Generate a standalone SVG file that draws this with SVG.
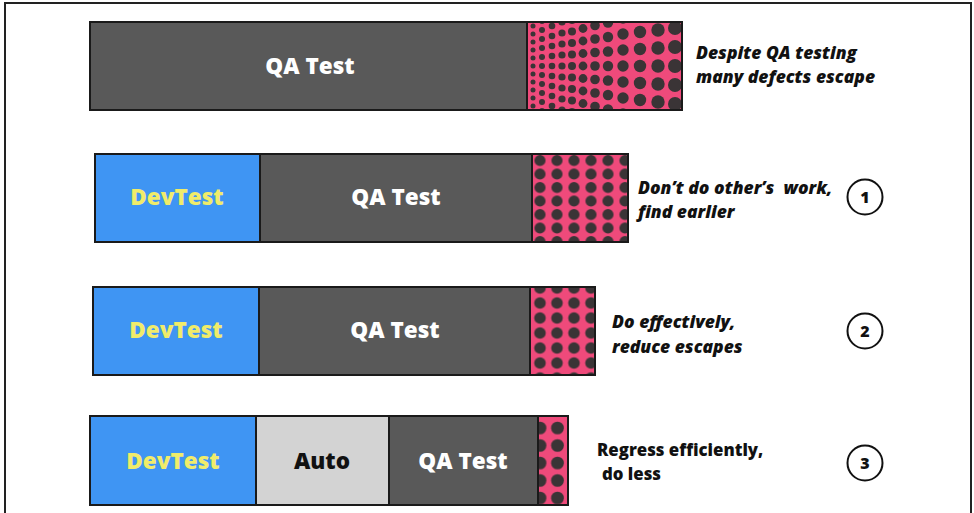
<svg xmlns="http://www.w3.org/2000/svg" width="974" height="513" viewBox="0 0 974 513">
  <style>
    .bar { stroke: #1a1a1a; stroke-width: 2; }
    .qa { fill: #595959; }
    .dev { fill: #3f95f3; }
    .auto { fill: #d3d3d3; }
    .pink { fill: #ef4a7b; }
    .lbl { font-family: "Open Sans", "Liberation Sans", sans-serif; font-weight: 800; font-size: 22.5px; text-anchor: middle; }
    .w { fill: #ffffff; }
    .y { fill: #f0ec6a; }
    .k { fill: #111111; }
    .note { font-family: "Open Sans", "Liberation Sans", sans-serif; font-weight: 800; font-style: italic; font-size: 17.5px; fill: #111111; }
    .note3 { font-family: "Open Sans", "Liberation Sans", sans-serif; font-weight: 800; font-size: 16.8px; fill: #111111; }
    .num { fill: #ffffff; stroke: #111111; stroke-width: 2; }
    .numt { font-family: "Open Sans", "Liberation Sans", sans-serif; font-weight: 800; font-size: 16px; fill: #111111; text-anchor: middle; }
    .dot { fill: #3a3436; }
  </style>
  <defs>
    <pattern id="dots1" patternUnits="userSpaceOnUse" x="531.5" y="154" width="17" height="13.5">
      <rect width="17" height="13.5" fill="#ef4a7b"/>
      <circle cx="8.5" cy="6.5" r="5.6" fill="#3a3436"/>
    </pattern>
    <pattern id="dots2" patternUnits="userSpaceOnUse" x="531.5" y="280.5" width="17" height="15">
      <rect width="17" height="15" fill="#ef4a7b"/>
      <circle cx="8.5" cy="7.5" r="5.8" fill="#3a3436"/>
    </pattern>
    <pattern id="dots3" patternUnits="userSpaceOnUse" x="531" y="419" width="17.5" height="17.5">
      <rect width="17.5" height="17.5" fill="#ef4a7b"/>
      <circle cx="9" cy="9" r="6.4" fill="#3a3436"/>
    </pattern>
    <clipPath id="clip0"><rect x="527" y="22" width="155" height="88"/></clipPath>
  </defs>

  <!-- outer frame -->
  <rect x="5" y="3" width="966" height="520" fill="#ffffff" stroke="#222222" stroke-width="2"/>

  <!-- row 0: QA only -->
  <g id="row0">
    <rect class="bar qa" x="90" y="22" width="437" height="88"/>
    <rect class="pink" x="527" y="22" width="155" height="88"/>
    <g clip-path="url(#clip0)" class="dot">
      <circle cx="533" cy="26" r="2.5"/><circle cx="533" cy="34" r="2.5"/><circle cx="533" cy="42" r="2.5"/><circle cx="533" cy="50" r="2.5"/><circle cx="533" cy="58" r="2.5"/><circle cx="533" cy="66" r="2.5"/><circle cx="533" cy="74" r="2.5"/><circle cx="533" cy="82" r="2.5"/><circle cx="533" cy="90" r="2.5"/><circle cx="533" cy="98" r="2.5"/><circle cx="533" cy="106" r="2.5"/>
      <circle cx="542" cy="21" r="3"/><circle cx="542" cy="30" r="3"/><circle cx="542" cy="39" r="3"/><circle cx="542" cy="48" r="3"/><circle cx="542" cy="57" r="3"/><circle cx="542" cy="66" r="3"/><circle cx="542" cy="75" r="3"/><circle cx="542" cy="84" r="3"/><circle cx="542" cy="93" r="3"/><circle cx="542" cy="102" r="3"/><circle cx="542" cy="111" r="3"/>
      <circle cx="552" cy="26" r="3.3"/><circle cx="552" cy="36" r="3.3"/><circle cx="552" cy="46" r="3.3"/><circle cx="552" cy="56" r="3.3"/><circle cx="552" cy="66" r="3.3"/><circle cx="552" cy="76" r="3.3"/><circle cx="552" cy="86" r="3.3"/><circle cx="552" cy="96" r="3.3"/><circle cx="552" cy="106" r="3.3"/>
      <circle cx="562" cy="22" r="3.6"/><circle cx="562" cy="33" r="3.6"/><circle cx="562" cy="44" r="3.6"/><circle cx="562" cy="55" r="3.6"/><circle cx="562" cy="66" r="3.6"/><circle cx="562" cy="77" r="3.6"/><circle cx="562" cy="88" r="3.6"/><circle cx="562" cy="99" r="3.6"/><circle cx="562" cy="110" r="3.6"/>
      <circle cx="572" cy="20" r="4"/><circle cx="572" cy="31.5" r="4"/><circle cx="572" cy="43" r="4"/><circle cx="572" cy="54.5" r="4"/><circle cx="572" cy="66" r="4"/><circle cx="572" cy="77.5" r="4"/><circle cx="572" cy="89" r="4"/><circle cx="572" cy="100.5" r="4"/><circle cx="572" cy="112" r="4"/>
      <circle cx="583" cy="28.5" r="4.4"/><circle cx="583" cy="41" r="4.4"/><circle cx="583" cy="53.5" r="4.4"/><circle cx="583" cy="66" r="4.4"/><circle cx="583" cy="78.5" r="4.4"/><circle cx="583" cy="91" r="4.4"/><circle cx="583" cy="103.5" r="4.4"/>
      <circle cx="595" cy="25.5" r="4.8"/><circle cx="595" cy="39" r="4.8"/><circle cx="595" cy="52.5" r="4.8"/><circle cx="595" cy="66" r="4.8"/><circle cx="595" cy="79.5" r="4.8"/><circle cx="595" cy="93" r="4.8"/><circle cx="595" cy="106.5" r="4.8"/>
      <circle cx="608" cy="22.5" r="5.2"/><circle cx="608" cy="37" r="5.2"/><circle cx="608" cy="51.5" r="5.2"/><circle cx="608" cy="66" r="5.2"/><circle cx="608" cy="80.5" r="5.2"/><circle cx="608" cy="95" r="5.2"/><circle cx="608" cy="109.5" r="5.2"/>
      <circle cx="623" cy="18" r="5.7"/><circle cx="623" cy="34" r="5.7"/><circle cx="623" cy="50" r="5.7"/><circle cx="623" cy="66" r="5.7"/><circle cx="623" cy="82" r="5.7"/><circle cx="623" cy="98" r="5.7"/><circle cx="623" cy="114" r="5.7"/>
      <circle cx="640" cy="32" r="6.2"/><circle cx="640" cy="49" r="6.2"/><circle cx="640" cy="66" r="6.2"/><circle cx="640" cy="83" r="6.2"/><circle cx="640" cy="100" r="6.2"/>
      <circle cx="658" cy="30" r="6.7"/><circle cx="658" cy="48" r="6.7"/><circle cx="658" cy="66" r="6.7"/><circle cx="658" cy="84" r="6.7"/><circle cx="658" cy="102" r="6.7"/>
      <circle cx="675" cy="28" r="7"/><circle cx="675" cy="47" r="7"/><circle cx="675" cy="66" r="7"/><circle cx="675" cy="85" r="7"/><circle cx="675" cy="104" r="7"/>
    </g>
    <rect x="90" y="22" width="592" height="88" fill="none" stroke="#1a1a1a" stroke-width="2"/>
    <line x1="527" y1="22" x2="527" y2="110" stroke="#1a1a1a" stroke-width="2"/>
    <text class="lbl w" x="310" y="74">QA Test</text>
    <text class="note" x="696" y="59">Despite QA testing</text>
    <text class="note" x="696" y="83">many defects escape</text>
  </g>

  <!-- row 1 -->
  <g id="row1">
    <rect class="bar dev" x="95" y="154" width="165" height="88"/>
    <rect class="bar qa" x="260" y="154" width="272" height="88"/>
    <rect class="bar" x="532" y="154" width="96" height="88" fill="url(#dots1)"/>
    <text class="lbl y" x="177" y="205">DevTest</text>
    <text class="lbl w" x="396" y="205">QA Test</text>
    <text class="note" x="638" y="194" xml:space="preserve">Don’t do other’s  work,</text>
    <text class="note" x="638" y="218">find earlier</text>
  </g>
  <g id="badge1">
    <circle class="num" cx="865" cy="197" r="17.5"/>
    <text class="numt" x="865" y="203">1</text>
  </g>

  <!-- row 2 -->
  <g id="row2">
    <rect class="bar dev" x="93" y="287" width="166" height="88"/>
    <rect class="bar qa" x="259" y="287" width="271" height="88"/>
    <rect class="bar" x="530" y="287" width="65" height="88" fill="url(#dots2)"/>
    <text class="lbl y" x="176" y="338">DevTest</text>
    <text class="lbl w" x="395" y="338">QA Test</text>
    <text class="note" x="612" y="328">Do effectively,</text>
    <text class="note" x="612" y="353">reduce escapes</text>
  </g>
  <g id="badge2">
    <circle class="num" cx="865" cy="331" r="17.5"/>
    <text class="numt" x="865" y="337">2</text>
  </g>

  <!-- row 3 -->
  <g id="row3">
    <rect class="bar dev" x="90" y="416" width="166" height="89"/>
    <rect class="bar auto" x="256" y="416" width="133" height="89"/>
    <rect class="bar qa" x="389" y="416" width="149" height="89"/>
    <rect class="bar" x="538" y="416" width="30" height="89" fill="url(#dots3)"/>
    <text class="lbl y" x="173" y="469">DevTest</text>
    <text class="lbl k" x="322" y="469">Auto</text>
    <text class="lbl w" x="463" y="469">QA Test</text>
    <text class="note3" x="597" y="456">Regress efficiently,</text>
    <text class="note3" x="602" y="480">do less</text>
  </g>
  <g id="badge3">
    <circle class="num" cx="865" cy="463" r="17.5"/>
    <text class="numt" x="865" y="469">3</text>
  </g>
</svg>
